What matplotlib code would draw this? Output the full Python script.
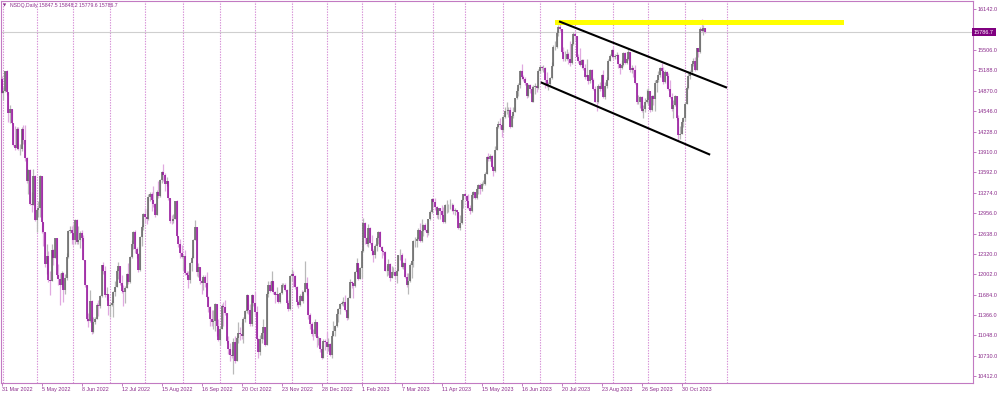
import numpy as np
import matplotlib.pyplot as plt

# daily closes, highs and lows, NSDQ 30 Mar 2022 .. 17 Nov 2023
closes = [
    15060, 14838,
    # Apr 2022
    14862, 15172, 14845, 14525, 14579, 14373, 14022, 13977, 14264, 13955,
    13962, 14270, 14100, 13811, 13454, 13625, 13098, 13090, 13543, 12855,
    # May 2022
    13002, 13040, 13536, 12818, 12656, 12161, 12290, 11910, 11900, 12387, 12260,
    12565, 11984, 11929, 11835, 12027, 11761, 11948, 12272, 12682, 12700, 12643,
    # Jun 2022
    12540, 12854, 12505, 12543, 12646, 12570, 12224, 11830, 11300, 11265, 11584,
    11100, 11252, 11300, 11520, 11500, 11655, 12142, 12050, 11680, 11700, 11503,
    # Jul 2022
    11528, 11560, 11725, 11807, 12052, 12126, 11860, 11740, 11720, 11792, 12010,
    11880, 12270, 12480, 12660, 12390, 12320, 12070, 12580, 12740, 12948,
    # Aug 2022
    12900, 12860, 13210, 13260, 13160, 13100, 12930, 13290, 13220, 13480, 13600, 13560,
    13410, 13460, 13200, 12840, 12830, 12870, 13140, 12600, 12470, 12330, 12270,
    # Sep 2022
    12290, 12020, 11990, 11910, 12170, 12260, 12540, 12740, 12030, 12120, 11900,
    11860, 11960, 11860, 11640, 11490, 11310, 11250, 11270, 11530, 11190, 10970,
    # Oct 2022
    11150, 11510, 11490, 11400, 10960, 10840, 10740, 10720, 10950, 10640, 11000,
    11080, 11070, 11030, 11310, 11430, 11680, 11440, 11220, 11670, 11560,
    # Nov 2022
    11405, 10990, 10780, 10990, 11080, 11170, 10900, 11690, 11840, 11740, 11890,
    11720, 11680, 11690, 11570, 11710, 11830, 11840, 11760, 11560, 11460, 11970,
    # Dec 2022
    12000, 11980, 11800, 11570, 11520, 11660, 11590, 11730, 11860, 11770, 11370,
    11220, 11070, 11060, 11250, 11000, 11000, 10840, 10690, 10960, 10940,
    # Jan 2023
    10860, 10910, 10740, 11040, 11110, 11190, 11380, 11460, 11540, 11560, 11570,
    11440, 11320, 11630, 11880, 11860, 11820, 12040, 12170, 11930, 12100,
    # Feb 2023
    12370, 12800, 12570, 12480, 12730, 12490, 12370, 12300, 12450, 12570,
    12660, 12430, 12360, 12350, 12060, 12060, 12160, 11950, 12030, 12040,
    # Mar 2023
    11980, 12060, 12300, 12300, 12120, 12180, 11960, 11830, 11890, 12150, 12210, 12520,
    12520, 12560, 12690, 12520, 12670, 12770, 12700, 12640, 12860, 12970, 13180,
    # Apr 2023
    13130, 13060, 12930, 13030, 12990, 12930, 12820, 13080, 13080, 13080,
    13090, 13090, 12990, 13000, 12970, 12720, 12800, 13160, 13250,
    # May 2023
    13230, 13150, 13040, 12990, 13240, 13280, 13200, 13340, 13390, 13340, 13410, 13410,
    13570, 13830, 13800, 13850, 13670, 13610, 13950, 14300, 14350, 14340, 14250,
    # Jun 2023
    14460, 14550, 14550, 14570, 14310, 14470, 14540, 14750, 14860, 14960, 15180,
    15080, 15060, 14990, 14780, 14960, 14890, 14690, 14930, 14950, 14910, 15180,
    # Jul 2023
    15240, 15230, 15230, 15040, 14940, 14970, 15070, 15250, 15550, 15560, 15770,
    15860, 15840, 15470, 15370, 15370, 15450, 15370, 15300, 15600, 15760,
    # Aug 2023
    15730, 15390, 15330, 15270, 15350, 15220, 15080, 15110, 15020, 15200, 15030, 14890,
    14700, 14690, 14940, 14890, 15110, 14770, 14940, 15040, 15330, 15410, 15500,
    # Sep 2023
    15390, 15420, 15430, 15290, 15230, 15270, 15460, 15300, 15360, 15480, 15200,
    15230, 15200, 14990, 14690, 14700, 14770, 14560, 14580, 14690, 14720,
    # Oct 2023
    14870, 14570, 14780, 14740, 14990, 15030, 15110, 15220, 15180, 15000, 15160,
    15100, 14900, 14770, 14580, 14650, 14790, 14440, 14170, 14200, 14380, 14450,
    # Nov 2023
    14670, 14920, 15100, 15170, 15280, 15330, 15200, 15530, 15480, 15830, 15810,
    15847.5, 15786.7,
]

highs = [
    15260, 15100,
    14930, 15180, 15190, 14700, 14640, 14560, 14240, 14320, 14310, 14300,
    14040, 14310, 14330, 14330, 13840, 13640, 13640, 13280, 13640, 13560,
    13020, 13140, 13560, 13540, 12810, 12650, 12470, 12360, 12060, 12480, 12400,
    12570, 12560, 12160, 12020, 12050, 12030, 12000, 12340, 12690, 12760, 12750,
    12780, 12870, 12860, 12750, 12680, 12700, 12620, 12220, 11800, 11400, 11750,
    11600, 11330, 11340, 11560, 11600, 11680, 12150, 12200, 12130, 11810, 11700,
    11560, 11600, 11740, 11890, 12080, 12190, 12120, 11990, 11830, 11820, 12020,
    12170, 12290, 12540, 12670, 12690, 12420, 12330, 12600, 12770, 12960,
    13030, 13020, 13250, 13290, 13280, 13380, 13120, 13320, 13460, 13490, 13620, 13720,
    13580, 13520, 13460, 13200, 12930, 12950, 13150, 13160, 12600, 12560, 12460,
    12310, 12380, 12050, 12060, 12190, 12290, 12560, 12850, 12740, 12170, 12110,
    11920, 11990, 11990, 12030, 11660, 11500, 11440, 11450, 11560, 11530, 11300,
    11200, 11540, 11570, 11600, 11400, 11040, 10920, 10840, 11000, 11040, 11030,
    11250, 11170, 11250, 11330, 11450, 11700, 11680, 11540, 11690, 11680,
    11720, 11500, 11000, 11050, 11100, 11300, 11180, 11720, 11890, 11900, 12050,
    11900, 11740, 11800, 11690, 11720, 11860, 11860, 11860, 11770, 11600, 11990,
    12080, 12050, 11990, 11820, 11600, 11690, 11750, 11740, 12210, 11960, 11780,
    11400, 11260, 11140, 11300, 11260, 11040, 11010, 10900, 10990, 10990,
    11100, 11010, 10920, 11080, 11270, 11210, 11400, 11480, 11560, 11580, 11640,
    11680, 11450, 11640, 11920, 11900, 11870, 12060, 12260, 12180, 12110,
    12400, 12880, 12820, 12590, 12780, 12740, 12620, 12400, 12470, 12600,
    12670, 12670, 12440, 12380, 12360, 12140, 12240, 12180, 12130, 12110,
    12080, 12080, 12310, 12400, 12330, 12200, 12260, 12020, 12020, 12180, 12230, 12540,
    12580, 12590, 12720, 12810, 12860, 12790, 12810, 12710, 12870, 13000, 13190,
    13200, 13190, 13070, 13040, 13040, 13080, 13060, 13100, 13160, 13100,
    13170, 13110, 13100, 13030, 13010, 12970, 12920, 13180, 13260,
    13290, 13240, 13260, 13090, 13270, 13300, 13290, 13370, 13410, 13420, 13440, 13470,
    13600, 13850, 13900, 13880, 13860, 13700, 14010, 14320, 14400, 14440, 14360,
    14490, 14610, 14690, 14610, 14610, 14500, 14620, 14760, 14910, 14990, 15200,
    15280, 15110, 15080, 14990, 14980, 14970, 14950, 14960, 14990, 14960, 15210,
    15270, 15260, 15270, 15240, 15160, 15010, 15090, 15320, 15580, 15650, 15800,
    15890, 15970, 15840, 15560, 15490, 15520, 15470, 15650, 15620, 15790,
    15810, 15730, 15440, 15540, 15370, 15360, 15280, 15360, 15120, 15210, 15210, 15070,
    14950, 14730, 14970, 15010, 15130, 15190, 15000, 15080, 15360, 15450, 15520,
    15560, 15450, 15470, 15440, 15300, 15350, 15470, 15470, 15390, 15520, 15480,
    15270, 15240, 15270, 14990, 14810, 14790, 14780, 14640, 14760, 14890,
    14920, 14870, 14800, 14800, 15040, 15050, 15180, 15240, 15300, 15240, 15190,
    15180, 15140, 15030, 14830, 14720, 14810, 14790, 14490, 14320, 14420, 14460,
    14700, 14950, 15180, 15200, 15310, 15380, 15400, 15540, 15540, 15860, 15990,
    15900, 15848.2,
]

lows = [
    14990, 14830,
    14720, 14850, 14810, 14380, 14370, 14350, 14000, 13950, 13960, 13940,
    13870, 13920, 14040, 13770, 13420, 13250, 13090, 12970, 13080, 12840,
    12660, 12900, 12890, 12650, 12440, 12120, 12000, 11880, 11680, 11900, 12150,
    12250, 11950, 11830, 11520, 11800, 11570, 11700, 11910, 12260, 12650, 12480,
    12460, 12480, 12470, 12470, 12410, 12520, 12220, 11810, 11270, 11170, 11250,
    11070, 11080, 11220, 11300, 11350, 11480, 11650, 12000, 11650, 11600, 11360,
    11340, 11500, 11340, 11660, 11800, 11930, 11830, 11710, 11500, 11560, 11790,
    11850, 11870, 12250, 12400, 12340, 12250, 12040, 12060, 12440, 12700,
    12800, 12790, 12850, 13150, 12990, 13050, 12900, 12930, 13200, 13210, 13430, 13460,
    13300, 13380, 13160, 12800, 12780, 12800, 12860, 12590, 12430, 12250, 12250,
    12070, 11990, 11950, 11780, 11870, 12060, 12250, 12540, 11980, 11960, 11850,
    11690, 11750, 11800, 11630, 11410, 11200, 11200, 11140, 11120, 11040, 10960,
    10900, 11150, 11200, 11370, 10930, 10760, 10650, 10690, 10440, 10620, 10640,
    10930, 10970, 10990, 10920, 11250, 11400, 11380, 11200, 11200, 11510,
    11370, 10970, 10700, 10740, 10920, 10990, 10880, 10900, 11640, 11720, 11740,
    11690, 11550, 11590, 11550, 11550, 11690, 11810, 11740, 11530, 11430, 11440,
    11890, 11800, 11770, 11500, 11470, 11500, 11580, 11560, 11720, 11680, 11300,
    11150, 11040, 10980, 11040, 10860, 10900, 10780, 10670, 10690, 10810,
    10770, 10800, 10720, 10700, 11040, 11040, 11180, 11260, 11380, 11520, 11500,
    11420, 11290, 11300, 11630, 11790, 11630, 11800, 12020, 11910, 11920,
    11950, 12350, 12480, 12440, 12420, 12470, 12310, 12200, 12260, 12360,
    12480, 12420, 12250, 12300, 12050, 11980, 11990, 11900, 11940, 11990,
    11930, 11870, 12050, 12220, 12100, 12080, 11940, 11800, 11700, 11880, 11950, 12110,
    12430, 12430, 12540, 12510, 12500, 12600, 12680, 12580, 12620, 12850, 12960,
    13050, 13010, 12880, 12860, 12860, 12910, 12800, 12800, 12960, 12980,
    13020, 12990, 12940, 12930, 12880, 12710, 12700, 12780, 13040,
    13190, 13030, 13020, 12950, 12980, 13200, 13180, 13180, 13250, 13260, 13300, 13390,
    13390, 13570, 13770, 13770, 13660, 13540, 13600, 13950, 14290, 14270, 14140,
    14220, 14440, 14510, 14460, 14290, 14300, 14450, 14530, 14740, 14780, 14920,
    15060, 15020, 14960, 14750, 14770, 14830, 14690, 14690, 14820, 14850, 14900,
    15150, 15200, 15160, 14920, 14930, 14880, 14950, 15060, 15250, 15500, 15540,
    15720, 15800, 15460, 15330, 15340, 15350, 15290, 15250, 15290, 15580,
    15660, 15370, 15300, 15250, 15230, 15200, 15050, 15060, 14980, 14990, 15010, 14880,
    14690, 14560, 14680, 14870, 14880, 14760, 14740, 14920, 15030, 15330, 15400,
    15360, 15360, 15360, 15220, 15130, 15210, 15260, 15280, 15290, 15350, 15170,
    15150, 15090, 14980, 14670, 14660, 14600, 14530, 14450, 14530, 14680,
    14650, 14540, 14560, 14640, 14560, 14850, 15010, 15090, 15070, 14970, 14990,
    14920, 14880, 14750, 14560, 14440, 14630, 14410, 14080, 14120, 14190, 14300,
    14400, 14660, 14900, 15050, 15130, 15250, 15180, 15200, 15400, 15460, 15780,
    15740, 15779.6,
]

first_open = 15230
first_bar = -2          # 30 Mar 2022; bar 0 is 1 Apr 2022

# bar index where each month starts (Apr 2022 .. Dec 2023)
month_starts = [0, 20, 42, 64, 85, 108, 130, 151, 173, 194, 215, 235,
                258, 277, 300, 322, 343, 366, 387, 409, 434]

date_labels = ['31 Mar 2022', '5 May 2022', '8 Jun 2022', '12 Jul 2022', '15 Aug 2022',
               '16 Sep 2022', '20 Oct 2022', '23 Nov 2022', '28 Dec 2022', '1 Feb 2023',
               '7 Mar 2023', '11 Apr 2023', '15 May 2023', '16 Jun 2023', '20 Jul 2023',
               '23 Aug 2023', '26 Sep 2023', '30 Oct 2023']
label_first_bar = -1
label_step = 24

price_ticks = [10412, 10730, 11048, 11366, 11684, 12002, 12320, 12638, 12956,
               13274, 13592, 13910, 14228, 14546, 14870, 15188, 15506, 16142]

# drawn objects: descending channel and resistance zone (bar index, price)
upper_line_x = [334, 433.6]
upper_line_y = [15948, 14923]
lower_line_x = [323, 423.5]
lower_line_y = [14995, 13876]
zone_x = [331, 504.4]
zone_y = [15897, 15975]

last_ohlc = [15847.5, 15848.2, 15779.6, 15786.7]

purple = '#8B2C8B'
frame = '#C27AC2'
sep_col = '#D68FD6'
bull_body, bull_wick = '#666666', '#B9B9B9'
bear_body, bear_wick = '#93139A', '#E0A9E0'
font = 'Liberation Sans'

c = np.array(closes, dtype=float)
o = np.concatenate(([first_open], c[:-1]))
o[-1] = last_ohlc[0]
h = np.maximum(np.array(highs, dtype=float), np.maximum(o, c))
l = np.minimum(np.array(lows, dtype=float), np.minimum(o, c))
x = np.arange(len(c)) + first_bar
up = c >= o

fig = plt.figure(figsize=(10, 3.94), dpi=100)
ax = fig.add_axes([0.001, 11 / 394, 0.972, 382 / 394])
ax.set_xlim(-1.44, 581.8)
ax.set_ylim(10302, 16272)

for m in month_starts:
    ax.axvline(m, color=sep_col, lw=0.8, ls=(0, (1.2, 1.2)), zorder=1)

ax.axhline(last_ohlc[3], color='#CFCFCF', lw=0.8, zorder=1)

ax.vlines(x, l, h, colors=np.where(up, bull_wick, bear_wick), lw=0.9, zorder=2)
ax.vlines(x, np.minimum(o, c), np.maximum(o, c),
          colors=np.where(up, bull_body, bear_body), lw=1.15, zorder=3)

ax.fill_between(zone_x, zone_y[0], zone_y[1], color='#FFFF00', lw=0, zorder=4)
ax.plot(upper_line_x, upper_line_y, color='black', lw=1.5, zorder=5)
ax.plot(lower_line_x, lower_line_y, color='black', lw=1.5, zorder=5)

# axes styling
for s in ax.spines.values():
    s.set_color(frame)
    s.set_linewidth(0.8)
ax.yaxis.tick_right()
ax.set_yticks(price_ticks)
ax.set_yticklabels(['%.1f' % v for v in price_ticks])
ax.tick_params(axis='y', colors=frame, labelcolor=purple, length=2.5, width=0.7,
               labelsize=4.0, pad=1.0)
tick_pos = [label_first_bar + label_step * k for k in range(len(date_labels))]
ax.set_xticks(tick_pos)
ax.set_xticklabels(date_labels)
ax.tick_params(axis='x', colors=frame, labelcolor=purple, length=2, width=0.7,
               labelsize=3.9, pad=1.0)
for t in ax.get_xticklabels():
    t.set_horizontalalignment('left')
for t in ax.get_xticklabels() + ax.get_yticklabels():
    t.set_family(font)

# current price label
ax.text(1.001, last_ohlc[3], '%.1f' % last_ohlc[3], transform=ax.get_yaxis_transform(),
        ha='left', va='center', fontsize=4.0, color='white', family=font,
        bbox=dict(boxstyle='square,pad=0.3', fc='#800080', ec='none'), zorder=10,
        clip_on=False)

# header text
ax.text(0.0025, 0.987, '\u25bc', transform=ax.transAxes, fontsize=3.0, color=purple,
        ha='left', va='center', family='DejaVu Sans')
ax.text(0.0092, 0.987, 'NSDQ,Daily %.1f %.1f %.1f %.1f' % tuple(last_ohlc),
        transform=ax.transAxes, fontsize=3.7, color=purple, ha='left', va='center',
        family=font)

fig.savefig('out.png', dpi=100)
